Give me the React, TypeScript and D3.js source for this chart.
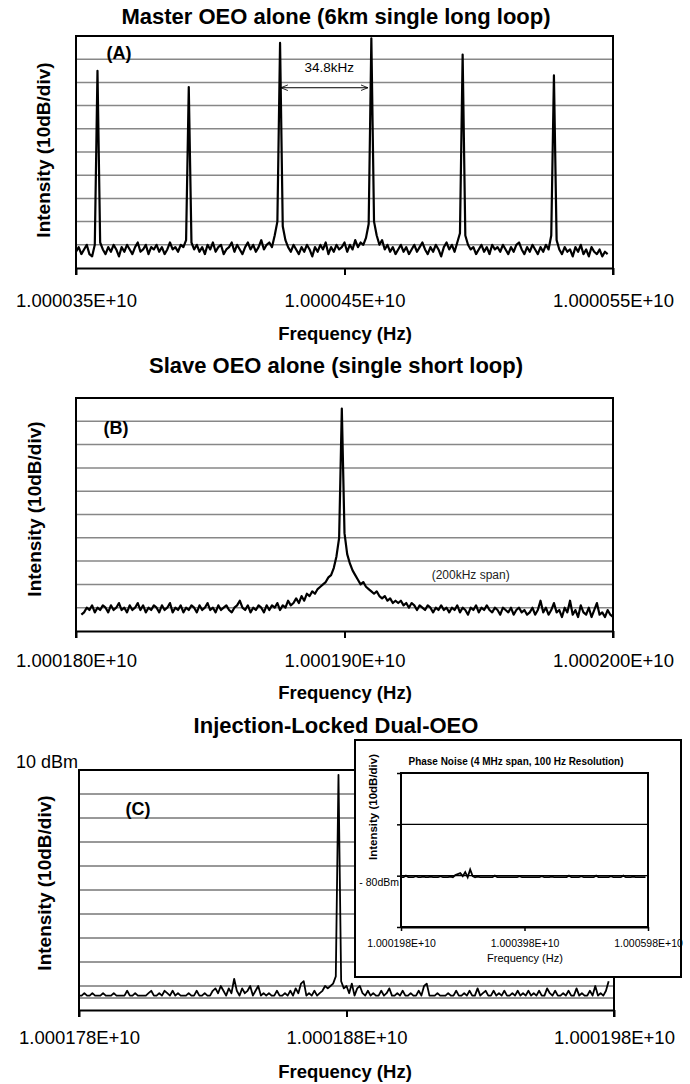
import React, { useEffect, useRef } from "react";
import * as d3 from "d3";

const FONT = "'Liberation Sans', Arial, Helvetica, sans-serif";

// grid lines, dBm (10 dB/div)
const GRID_DBM = [-80, -70, -60, -50, -40, -30, -20, -10, 0];
const GRID_C_DBM = [-85, -80, -70, -60, -50, -40, -30, -20, -10, 0];
const INSET_GRID_DBM = [-80, -70];
const INSET_YTICKS = [-90, -80, -70, -60];

// (A) master OEO, 1 kHz bins starting at 1.000035E+10
const A_DOMAIN = [10000350000, 10000550000];
const A_TICKS = [10000350000, 10000450000, 10000550000];
const A_START = 10000350000;
const A_STEP = 1000;
const A_ARROW_HZ = [10000426300, 10000458700];
const A_DBM = [
  -83, -81, -84, -82, -80, -84, -85, -80, -5, -79,
  -82, -84, -81, -83, -80, -82, -85, -81, -83, -80,
  -82, -84, -81, -79, -83, -82, -80, -84, -81, -82,
  -80, -83, -81, -84, -82, -79, -82, -81, -83, -80,
  -81, -78, -12, -79, -82, -80, -83, -81, -84, -80,
  -82, -79, -83, -81, -80, -84, -82, -81, -79, -83,
  -80, -82, -84, -81, -79, -82, -80, -83, -81, -78,
  -82, -80, -79, -81, -76, -70, 7, -72, -78, -81,
  -83, -80, -82, -84, -81, -83, -80, -82, -85, -81,
  -83, -80, -82, -79, -84, -81, -83, -80, -82, -81,
  -79, -83, -80, -82, -78, -81, -79, -80, -77, -71,
  9, -70, -76, -80, -78, -82, -80, -83, -81, -84,
  -82, -80, -83, -81, -84, -82, -80, -83, -81, -79,
  -82, -84, -81, -83, -80, -82, -85, -81, -79, -82,
  -80, -83, -79, -75, 2, -76, -80, -82, -81, -84,
  -82, -80, -83, -81, -84, -80, -82, -81, -83, -80,
  -82, -84, -81, -83, -80, -79, -82, -84, -81, -83,
  -80, -82, -84, -81, -83, -80, -82, -76, -7, -78,
  -82, -84, -81, -83, -82, -85, -81, -83, -80, -84,
  -82, -85, -81, -83, -84, -82, -85, -83, -84,
];

// (B) slave OEO, 1 kHz bins starting at 1.000180E+10 + 2 kHz
const B_DOMAIN = [10001800000, 10002000000];
const B_TICKS = [10001800000, 10001900000, 10002000000];
const B_START = 10001802000;
const B_STEP = 1000;
const B_SPAN_NOTE = [10001947000, -67.5];
const B_DBM = [
  -83, -82, -80, -81, -79, -82, -80, -81, -79, -80,
  -82, -79, -81, -80, -78, -81, -80, -82, -79, -81,
  -80, -78, -81, -79, -82, -80, -81, -79, -80, -82,
  -79, -81, -80, -78, -82, -80, -81, -79, -82, -80,
  -81, -79, -80, -82, -79, -81, -80, -78, -81, -80,
  -82, -79, -81, -80, -79, -81, -82, -80, -79, -77,
  -80, -81, -79, -82, -80, -81, -79, -80, -82, -79,
  -81, -79, -80, -78, -81, -79, -80, -77, -79, -78,
  -76, -78, -75, -77, -74, -75, -73, -74, -72, -71,
  -70, -69, -67, -66, -63, -58, -50, 5.5, -48, -57,
  -61, -64, -66, -68, -70, -69, -71, -72, -73, -74,
  -73, -75, -76, -75, -77, -76, -78, -77, -78, -77,
  -79, -78, -80, -78, -79, -81, -79, -80, -81, -79,
  -80, -82, -80, -81, -79, -81, -80, -82, -80, -81,
  -79, -82, -80, -81, -83, -80, -81, -79, -82, -80,
  -81, -79, -81, -82, -80, -81, -83, -80, -81, -82,
  -80, -83, -81, -80, -82, -81, -83, -82, -80, -83,
  -81, -77, -82, -80, -83, -81, -78, -82, -81, -84,
  -80, -82, -77, -83, -81, -84, -79, -82, -83, -80,
  -84, -81, -78, -83, -82, -84, -81, -83, -84,
];

// (C) injection-locked dual OEO, 1 kHz bins starting at 1.000178E+10
const C_DOMAIN = [10001780000, 10001980000];
const C_TICKS = [10001780000, 10001880000, 10001980000];
const C_START = 10001780000;
const C_STEP = 1000;
const C_DBM = [
  -84, -84, -83, -84, -84, -83, -84, -84, -84, -83,
  -84, -84, -84, -83, -84, -84, -84, -84, -82, -84,
  -84, -83, -84, -84, -84, -84, -83, -82, -84, -84,
  -83, -84, -82, -83, -84, -82, -84, -83, -84, -84,
  -84, -83, -84, -84, -82, -84, -84, -83, -84, -84,
  -82, -81, -83, -80, -82, -84, -81, -83, -77, -82,
  -84, -81, -83, -82, -80, -84, -82, -80, -84, -83,
  -84, -83, -84, -84, -82, -84, -84, -83, -84, -82,
  -84, -81, -83, -79, -78, -84, -83, -84, -82, -84,
  -83, -82, -80, -81, -80, -79, -76, 8, -78, -81,
  -80, -83, -79, -84, -81, -80, -83, -84, -82, -84,
  -83, -84, -84, -82, -84, -83, -81, -84, -84, -83,
  -84, -82, -84, -84, -83, -84, -84, -82, -84, -80,
  -79, -84, -84, -84, -83, -84, -84, -84, -83, -84,
  -84, -82, -84, -84, -83, -84, -82, -84, -84, -81,
  -84, -83, -82, -84, -84, -82, -84, -83, -84, -82,
  -84, -84, -83, -84, -82, -84, -83, -84, -82, -84,
  -83, -84, -82, -84, -84, -81, -83, -84, -82, -84,
  -84, -83, -84, -82, -84, -84, -81, -84, -83, -84,
  -84, -82, -84, -80, -84, -83, -84, -82, -78,
];

// inset: phase noise, 4 MHz span, 40 kHz bins
const INSET_DOMAIN = [10001980000, 10005980000];
const INSET_TICKS = [10001980000, 10003980000, 10005980000];
const INSET_START = 10001980000;
const INSET_STEP = 40000;
const INSET_DBM = [
  -80.3, -80.3, -80.0, -80.3, -80.3, -80.3, -80.1, -80.3, -80.3, -80.2,
  -80.3, -80.3, -80.2, -80.3, -80.3, -80.3, -80.1, -80.3, -80.3, -80.3,
  -80.2, -80.3, -79.9, -79.7, -79.5, -80.1, -79.3, -80.3, -78.8, -80.1,
  -80.3, -80.2, -80.3, -80.3, -80.3, -80.3, -80.3, -80.3, -80.0, -80.3,
  -80.3, -80.3, -80.3, -80.3, -80.3, -80.3, -80.3, -80.3, -80.1, -80.3,
  -80.3, -80.3, -80.3, -80.3, -80.3, -80.3, -80.3, -80.1, -80.3, -80.3,
  -80.3, -80.2, -80.3, -80.3, -80.3, -80.3, -80.3, -80.3, -80.0, -80.3,
  -80.3, -80.3, -80.3, -80.1, -80.3, -80.3, -80.3, -80.3, -80.3, -80.0,
  -80.3, -80.3, -80.3, -80.3, -80.3, -80.1, -80.3, -80.3, -80.3, -80.3,
  -80.0, -80.3, -80.3, -80.3, -80.2, -80.3, -80.3, -80.3, -80.3, -80.3,
];

const fmtE10 = (d) => (d / 1e10).toFixed(6) + "E+10";

function drawPanel(root, p) {
  const g = root.append("g");
  const x = d3.scaleLinear().domain(p.domain).range([p.left, p.right]);
  const y = d3.scaleLinear().domain([-90, 10]).range([p.bottom, p.top]);

  g.selectAll(".grid")
    .data(p.grid)
    .join("line")
    .attr("class", "grid")
    .attr("x1", p.left)
    .attr("x2", p.right)
    .attr("y1", (d) => y(d))
    .attr("y2", (d) => y(d))
    .attr("stroke", p.gridColor)
    .attr("stroke-width", p.gridWidth);

  const line = d3
    .line()
    .x((d, i) => x(p.start + i * p.step))
    .y((d) => y(d));
  g.append("path")
    .datum(p.values)
    .attr("d", line)
    .attr("fill", "none")
    .attr("stroke", "#000")
    .attr("stroke-width", p.lineWidth)
    .attr("stroke-linejoin", "round");

  // frame
  g.append("line")
    .attr("x1", p.left).attr("x2", p.left)
    .attr("y1", p.top).attr("y2", p.bottom + 7)
    .attr("stroke", "#000").attr("stroke-width", 2);
  g.append("line")
    .attr("x1", p.right).attr("x2", p.right)
    .attr("y1", p.topRight ?? p.top).attr("y2", p.bottom + 7)
    .attr("stroke", "#000").attr("stroke-width", 2);
  g.append("line")
    .attr("x1", p.left - 1).attr("x2", p.topEnd ?? p.right + 1)
    .attr("y1", p.top).attr("y2", p.top)
    .attr("stroke", "#000").attr("stroke-width", 2);

  const ax = g
    .append("g")
    .attr("transform", `translate(0, ${p.bottom})`)
    .call(d3.axisBottom(x).tickValues(p.ticks).tickSize(7).tickSizeOuter(0).tickFormat(fmtE10));
  ax.select(".domain").attr("stroke-width", 2);
  ax.selectAll(".tick line").attr("stroke-width", 2);
  ax.selectAll(".tick text")
    .attr("y", p.tickLabelDy)
    .attr("dy", null)
    .attr("font-family", FONT)
    .attr("font-size", 18.5)
    .attr("fill", "#000");

  root.append("text")
    .attr("x", 336).attr("y", p.titleY)
    .attr("text-anchor", "middle")
    .attr("font-family", FONT).attr("font-weight", 700).attr("font-size", 22)
    .text(p.title);
  root.append("text")
    .attr("x", 345).attr("y", p.xTitleY)
    .attr("text-anchor", "middle")
    .attr("font-family", FONT).attr("font-weight", 700).attr("font-size", 18.5)
    .text("Frequency (Hz)");
  root.append("text")
    .attr("transform", `translate(${p.yLabelX}, ${p.yLabelY}) rotate(-90)`)
    .attr("text-anchor", "middle")
    .attr("font-family", FONT).attr("font-weight", 700).attr("font-size", 19)
    .text("Intensity (10dB/div)");
  root.append("text")
    .attr("x", p.tagX).attr("y", p.tagY)
    .attr("text-anchor", "middle")
    .attr("font-family", FONT).attr("font-weight", 700).attr("font-size", 18)
    .text(p.tag);

  return { g, x, y };
}

export default function App() {
  const ref = useRef(null);

  useEffect(() => {
    const svg = d3.select(ref.current);
    svg.selectAll("*").remove();

    const defs = svg.append("defs");
    ["start", "end"].forEach((k) => {
      defs.append("marker")
        .attr("id", "arr-" + k)
        .attr("viewBox", "0 0 10 10")
        .attr("refX", k === "end" ? 10 : 0)
        .attr("refY", 5)
        .attr("markerWidth", 7)
        .attr("markerHeight", 7)
        .attr("markerUnits", "userSpaceOnUse")
        .attr("orient", "auto")
        .append("path")
        .attr("d", k === "end" ? "M0,1 L10,5 L0,9" : "M10,1 L0,5 L10,9")
        .attr("fill", "none")
        .attr("stroke", "#000")
        .attr("stroke-width", 1.2);
    });

    // (A)
    const A = drawPanel(svg, {
      domain: A_DOMAIN, ticks: A_TICKS, start: A_START, step: A_STEP, values: A_DBM,
      left: 76, right: 613, top: 36, bottom: 268,
      grid: GRID_DBM, gridColor: "#878787", gridWidth: 1.5, lineWidth: 2.2,
      tickLabelDy: 39, title: "Master OEO alone (6km single long loop)", titleY: 24,
      xTitleY: 340, yLabelX: 50, yLabelY: 150, tag: "(A)", tagX: 119, tagY: 59,
    });
    A.g.append("line")
      .attr("x1", A.x(A_ARROW_HZ[0])).attr("x2", A.x(A_ARROW_HZ[1]))
      .attr("y1", A.y(-12.3)).attr("y2", A.y(-12.3))
      .attr("stroke", "#000").attr("stroke-width", 1)
      .attr("marker-start", "url(#arr-start)")
      .attr("marker-end", "url(#arr-end)");
    A.g.append("text")
      .attr("x", A.x((A_ARROW_HZ[0] + A_ARROW_HZ[1]) / 2) + 5)
      .attr("y", A.y(-5.7))
      .attr("text-anchor", "middle")
      .attr("font-family", FONT).attr("font-size", 13.5)
      .text("34.8kHz");

    // (B)
    const B = drawPanel(svg, {
      domain: B_DOMAIN, ticks: B_TICKS, start: B_START, step: B_STEP, values: B_DBM,
      left: 76, right: 613, top: 398, bottom: 631,
      grid: GRID_DBM, gridColor: "#878787", gridWidth: 1.5, lineWidth: 2.2,
      tickLabelDy: 36, title: "Slave OEO alone (single short loop)", titleY: 373,
      xTitleY: 699, yLabelX: 41, yLabelY: 509, tag: "(B)", tagX: 116, tagY: 434,
    });
    B.g.append("text")
      .attr("x", B.x(B_SPAN_NOTE[0])).attr("y", B.y(B_SPAN_NOTE[1]))
      .attr("text-anchor", "middle")
      .attr("font-family", FONT).attr("font-size", 12).attr("fill", "#222")
      .text("(200kHz span)");

    // (C)
    const C = drawPanel(svg, {
      domain: C_DOMAIN, ticks: C_TICKS, start: C_START, step: C_STEP, values: C_DBM,
      left: 79, right: 614, top: 770, bottom: 1010, topEnd: 356, topRight: 977,
      grid: GRID_C_DBM, gridColor: "#333", gridWidth: 1, lineWidth: 1.8,
      tickLabelDy: 34, title: "Injection-Locked Dual-OEO", titleY: 733,
      xTitleY: 1078, yLabelX: 51, yLabelY: 883, tag: "(C)", tagX: 138, tagY: 815,
    });
    svg.append("text")
      .attr("x", 78).attr("y", C.y(10) - 2)
      .attr("text-anchor", "end")
      .attr("font-family", FONT).attr("font-size", 18)
      .text("10  dBm");

    // inset
    const ins = svg.append("g");
    ins.append("rect")
      .attr("x", 355).attr("y", 740).attr("width", 326).attr("height", 237)
      .attr("fill", "#fff").attr("stroke", "#000").attr("stroke-width", 2);
    const ix = d3.scaleLinear().domain(INSET_DOMAIN).range([401, 648]);
    const iy = d3.scaleLinear().domain([-90, -60]).range([927, 773]);
    ins.selectAll(".igrid")
      .data(INSET_GRID_DBM)
      .join("line")
      .attr("x1", 401).attr("x2", 648)
      .attr("y1", (d) => iy(d)).attr("y2", (d) => iy(d))
      .attr("stroke", "#000").attr("stroke-width", 1.2);
    ins.append("path")
      .datum(INSET_DBM)
      .attr("d", d3.line().x((d, i) => ix(INSET_START + i * INSET_STEP)).y((d) => iy(d)))
      .attr("fill", "none").attr("stroke", "#000").attr("stroke-width", 1.8);
    ins.append("rect")
      .attr("x", 401).attr("y", 773).attr("width", 247).attr("height", 154)
      .attr("fill", "none").attr("stroke", "#000").attr("stroke-width", 2);
    const iax = ins.append("g")
      .attr("transform", "translate(0, 927)")
      .call(d3.axisBottom(ix).tickValues(INSET_TICKS).tickSize(4).tickSizeOuter(0).tickFormat(fmtE10));
    iax.select(".domain").attr("stroke-width", 2);
    iax.selectAll(".tick line").attr("stroke-width", 1.5);
    iax.selectAll(".tick text")
      .attr("y", 20).attr("dy", null)
      .attr("font-family", FONT).attr("font-size", 10.5).attr("fill", "#000");
    const iyax = ins.append("g")
      .attr("transform", "translate(401, 0)")
      .call(d3.axisLeft(iy).tickValues(INSET_YTICKS).tickSize(4).tickSizeOuter(0).tickFormat(() => ""));
    iyax.select(".domain").remove();
    iyax.selectAll(".tick line").attr("stroke-width", 1.5);
    ins.append("text")
      .attr("x", 399).attr("y", iy(-80) + 10)
      .attr("text-anchor", "end")
      .attr("font-family", FONT).attr("font-size", 10.5)
      .text("- 80dBm");
    ins.append("text")
      .attr("x", 525).attr("y", 962)
      .attr("text-anchor", "middle")
      .attr("font-family", FONT).attr("font-size", 11)
      .text("Frequency (Hz)");
    ins.append("text")
      .attr("x", 516).attr("y", 765)
      .attr("text-anchor", "middle")
      .attr("font-family", FONT).attr("font-weight", 700).attr("font-size", 11)
      .attr("textLength", 215).attr("lengthAdjust", "spacingAndGlyphs")
      .text("Phase Noise (4 MHz span, 100 Hz Resolution)");
    ins.append("text")
      .attr("transform", "translate(377, 807) rotate(-90)")
      .attr("text-anchor", "middle")
      .attr("font-family", FONT).attr("font-weight", 700).attr("font-size", 11.5)
      .text("Intensity (10dB/div)");
  }, []);

  return (
    <svg
      ref={ref}
      width={690}
      height={1084}
      style={{ position: "absolute", left: 0, top: 0, background: "#fff" }}
    />
  );
}
